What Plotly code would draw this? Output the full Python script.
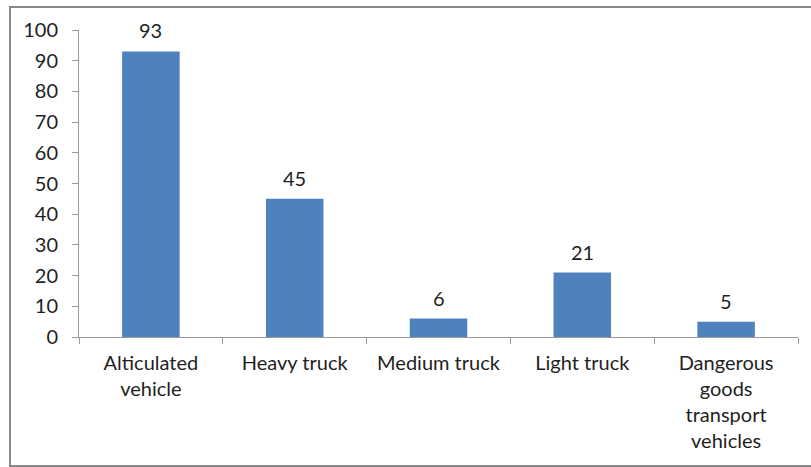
import plotly.graph_objects as go

categories = ["Alticulated<br>vehicle", "Heavy truck", "Medium truck", "Light truck",
              "Dangerous<br>goods<br>transport<br>vehicles"]
values = [93, 45, 6, 21, 5]
y_ticks = [0, 10, 20, 30, 40, 50, 60, 70, 80, 90, 100]

FONT = dict(family="Lato, Carlito, Calibri, sans-serif", size=20, color="#1f1f1f")
AXIS_COLOR = "#9a9a9a"

fig = go.Figure()
fig.add_trace(go.Bar(
    x=categories, y=values,
    marker=dict(color="#4F81BD", line=dict(width=0)),
    hoverinfo="skip",
))

for c, v in zip(categories, values):
    fig.add_annotation(x=c, y=v, text=str(v), showarrow=False,
                       yanchor="middle", yshift=21, font=FONT)

fig.update_layout(
    width=811, height=467,
    margin=dict(l=79, r=13, t=30, b=130),
    paper_bgcolor="white", plot_bgcolor="white",
    bargap=0.6,
    showlegend=False,
    font=FONT,
    xaxis=dict(
        showline=True, linecolor=AXIS_COLOR, linewidth=1,
        ticks="outside", tickson="boundaries", ticklen=6, tickcolor=AXIS_COLOR,
        tickfont=FONT, ticklabelstandoff=8,
        showgrid=False, zeroline=False,
    ),
    yaxis=dict(
        range=[0, 100], tickvals=y_ticks,
        showline=True, linecolor=AXIS_COLOR, linewidth=1,
        ticks="outside", ticklen=6, tickcolor=AXIS_COLOR,
        tickfont=FONT, ticklabelstandoff=10,
        showgrid=False, zeroline=False,
    ),
)

# outer chart border
fig.add_shape(type="rect", xref="paper", yref="paper",
              x0=(10 - 79) / 719, x1=(813 - 79) / 719,
              y0=(337 - 466) / 307, y1=(337 - 7) / 307,
              line=dict(color="#888888", width=2), layer="below")

fig.write_html("out.html")
